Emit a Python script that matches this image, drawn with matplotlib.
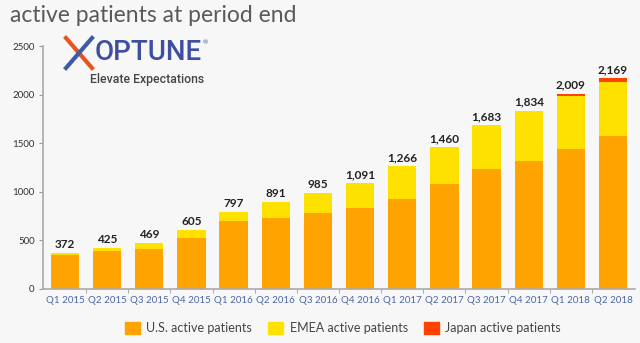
import numpy as np
import matplotlib
matplotlib.use("Agg")
import matplotlib.pyplot as plt
from matplotlib.patches import Patch
from matplotlib.lines import Line2D

# data
quarters = ["Q1 2015", "Q2 2015", "Q3 2015", "Q4 2015", "Q1 2016", "Q2 2016", "Q3 2016",
            "Q4 2016", "Q1 2017", "Q2 2017", "Q3 2017", "Q4 2017", "Q1 2018", "Q2 2018"]
totals = [372, 425, 469, 605, 797, 891, 985, 1091, 1266, 1460, 1683, 1834, 2009, 2169]
us = [347, 394, 408, 528, 700, 734, 782, 833, 929, 1080, 1235, 1317, 1444, 1574]
japan = [0, 0, 0, 0, 0, 0, 0, 0, 0, 0, 0, 0, 25, 38]
emea = [t - u - j for t, u, j in zip(totals, us, japan)]

c_us = "#FFA300"
c_emea = "#FFE100"
c_japan = "#FF4200"
bg = "#F7F7F7"

plt.rcParams['font.family'] = ['Lato', 'DejaVu Sans']

fig = plt.figure(figsize=(6.4, 3.43), dpi=100, facecolor=bg)
ax = fig.add_axes([43 / 640, 1 - 289 / 343, 592 / 640, 243 / 343])
ax.set_facecolor(bg)

x = np.arange(len(quarters))
w = 0.67
ax.bar(x, us, w, color=c_us, label="U.S. active patients")
ax.bar(x, emea, w, bottom=us, color=c_emea, label="EMEA active patients")
ax.bar(x, japan, w, bottom=[u + e for u, e in zip(us, emea)], color=c_japan,
       label="Japan active patients")

for xi, t in zip(x, totals):
    ax.text(xi, t + 30, f"{t:,}", ha="center", va="bottom", fontsize=8.5,
            fontweight="bold", color="#222222")

ax.set_xlim(-0.52, 13.52)
ax.set_ylim(0, 2500)
ax.set_yticks([0, 500, 1000, 1500, 2000, 2500])
ax.set_xticks(x)
ax.set_xticklabels(quarters, fontsize=7, color="#4A66A8")
ax.set_xticks(x[:-1] + 0.5, minor=True)
ax.tick_params(axis="x", which="major", length=0, pad=5)
ax.tick_params(axis="x", which="minor", length=3, color="#999999")
ax.tick_params(axis="y", labelsize=7, colors="#333333", length=3, pad=3)
ax.tick_params(axis="y", color="#999999")
for s in ["top", "right"]:
    ax.spines[s].set_visible(False)
for s in ["left", "bottom"]:
    ax.spines[s].set_color("#AAAAAA")
    ax.spines[s].set_linewidth(1.2)

# title
fig.text(10 / 640, 1 - 15 / 343, "active patients at period end", fontsize=16.5,
         color="#5A5A5A", va="center", ha="left")

# logo
fig.add_artist(Line2D([66 / 640, 92 / 640], [1 - 38 / 343, 1 - 68 / 343],
                      color="#E8541E", lw=3))
fig.add_artist(Line2D([66 / 640, 92 / 640], [1 - 68 / 343, 1 - 38 / 343],
                      color="#3F5AA6", lw=3))
fig.text(95 / 640, 1 - 53 / 343, "OPTUNE", fontsize=20, color="#3F4FA0",
         va="center", ha="left", family="Roboto", fontweight="medium")
fig.text(203 / 640, 1 - 43 / 343, "®", fontsize=4.5, color="#3F4FA0", va="center",
         ha="left")
fig.text(147 / 640, 1 - 80 / 343, "Elevate Expectations", fontsize=8.8, color="#444444",
         va="center", ha="center", family="Roboto", fontweight="medium")

handles = [Patch(color=c_us), Patch(color=c_emea), Patch(color=c_japan)]
labels = ["U.S. active patients", "EMEA active patients", "Japan active patients"]
fig.legend(handles, labels, loc="center", bbox_to_anchor=(0.536, 1 - 328 / 343),
           ncol=3, frameon=False, handlelength=1.2, handleheight=1.2,
           handletextpad=0.5, columnspacing=1.3, labelcolor="#444444",
           prop={"size": 9})

fig.savefig("out.png", dpi=100, facecolor=bg)
